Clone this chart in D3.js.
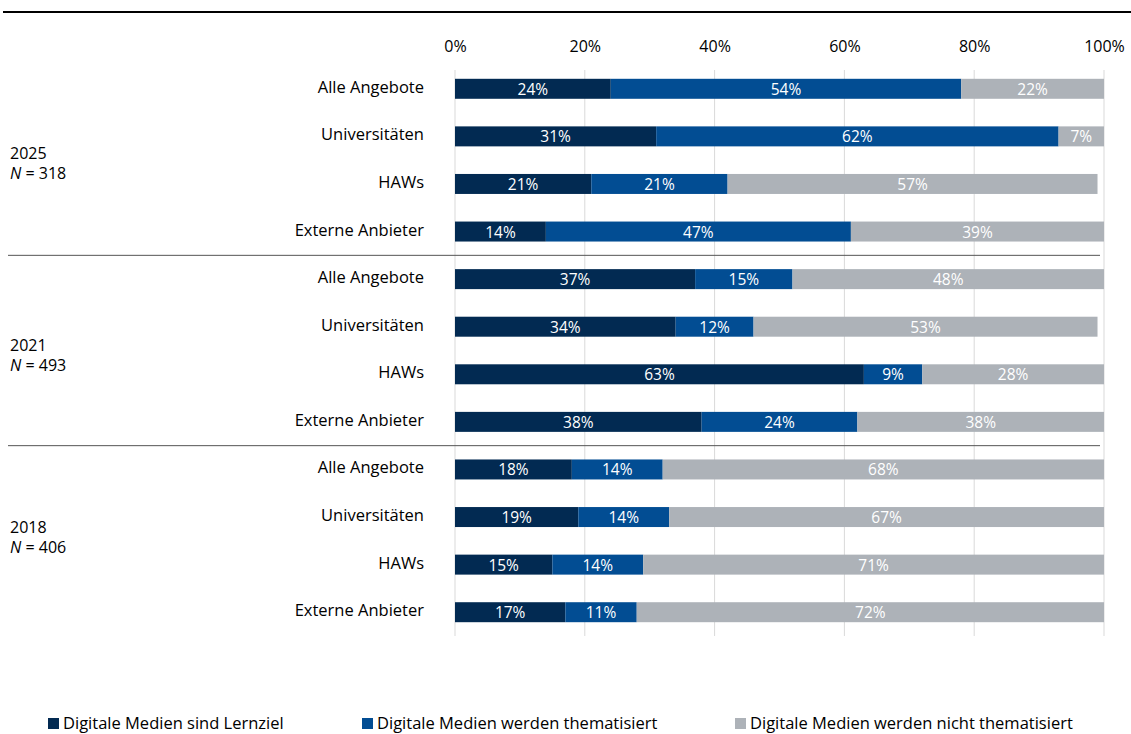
<!DOCTYPE html>
<html><head><meta charset="utf-8">
<script src="https://cdn.jsdelivr.net/npm/d3@7"></script>
<style>body{margin:0;background:#fff}svg{display:block;font-family:"Open Sans","Noto Sans",sans-serif}</style>
</head><body><svg id="c" width="1131" height="734"></svg>
<script>
const categories = ["Alle Angebote","Universitäten","HAWs","Externe Anbieter"];
const groups = ["2025","2021","2018"];
const groupN = ["318","493","406"];
const seriesNames = ["Digitale Medien sind Lernziel","Digitale Medien werden thematisiert","Digitale Medien werden nicht thematisiert"];
const lernziel = [24,31,21,14, 37,34,63,38, 18,19,15,17];
const thematisiert = [54,62,21,47, 15,12,9,24, 14,14,14,11];
const nicht = [22,7,57,39, 48,53,28,38, 68,67,71,72];
const ticks = [0,20,40,60,80,100];
const colors = ["#022a52","#024d93","#adb2b8"];

const svg = d3.select("#c");
const rows = [];
groups.forEach((g,gi)=>categories.forEach((c,ci)=>{const i=gi*4+ci;rows.push({key:g+"|"+c,cat:c,vals:[lernziel[i],thematisiert[i],nicht[i]]});}));

const x = d3.scaleLinear().domain([0,100]).range([455,1104]);
const y = d3.scaleBand().domain(rows.map(r=>r.key)).range([65,636]).paddingInner(0.58).paddingOuter(0.29);

svg.append("line").attr("x1",3).attr("x2",1131).attr("y1",12).attr("y2",12).attr("stroke","#000").attr("stroke-width",2);

svg.append("g").selectAll("line").data(ticks).join("line")
  .attr("x1",d=>x(d)).attr("x2",d=>x(d)).attr("y1",70).attr("y2",636)
  .attr("stroke","#d9d9d9").attr("stroke-width",1);

const ax = svg.append("g").attr("transform","translate(0,47)").call(d3.axisTop(x).tickValues(ticks).tickFormat(d=>d+"%").tickSize(0).tickPadding(0));
ax.select(".domain").remove();
ax.selectAll("text").attr("font-size",16).attr("fill","#000").attr("font-family","Open Sans, sans-serif").attr("dy","0.32em");

const rowG = svg.append("g").selectAll("g").data(rows).join("g");
rowG.each(function(r){
  let acc=0;
  const segs=r.vals.map((v,i)=>{const s={x0:acc,x1:acc+v,v,i};acc+=v;return s;});
  const g=d3.select(this);
  g.selectAll("rect").data(segs).join("rect")
    .attr("x",d=>x(d.x0)).attr("width",d=>x(d.x1)-x(d.x0))
    .attr("y",y(r.key)).attr("height",y.bandwidth())
    .attr("fill",d=>colors[d.i]);
  g.selectAll("text").data(segs).join("text")
    .attr("x",d=>(x(d.x0)+x(d.x1))/2).attr("y",y(r.key)+y.bandwidth()/2+6)
    .attr("text-anchor","middle").attr("fill","#fff").attr("font-size",15.5)
    .text(d=>d.v+"%");
  g.append("text").attr("x",424).attr("y",y(r.key)+y.bandwidth()/2+4).attr("text-anchor","end")
    .attr("font-size",16.5).attr("fill","#000").text(r.cat);
});

[4,8].forEach(k=>{
  const yy=(y(rows[k-1].key)+y.bandwidth()+y(rows[k].key))/2;
  svg.append("line").attr("x1",8).attr("x2",1100).attr("y1",yy).attr("y2",yy).attr("stroke","#555").attr("stroke-width",1);
});

const groupShift=[5,6,-2];
groups.forEach((g,gi)=>{
  const yc=(y(rows[gi*4+1].key)+y(rows[gi*4+2].key)+y.bandwidth())/2+groupShift[gi];
  const t=svg.append("text").attr("x",10).attr("font-size",16).attr("fill","#000");
  t.append("tspan").attr("x",10).attr("y",yc-6).text(g);
  const t2=t.append("tspan").attr("x",10).attr("y",yc+14);
  t2.append("tspan").attr("font-style","italic").text("N");
  t2.append("tspan").text(" = "+groupN[gi]);
});

const legX=[48,362,735];
const lg=svg.append("g").selectAll("g").data(seriesNames).join("g").attr("transform",(d,i)=>`translate(${legX[i]},715)`);
lg.append("rect").attr("width",11).attr("height",11).attr("y",3).attr("fill",(d,i)=>colors[i]);
lg.append("text").attr("x",15).attr("y",14).attr("font-size",16.5).attr("fill","#000").text(d=>d);
</script></body></html>
